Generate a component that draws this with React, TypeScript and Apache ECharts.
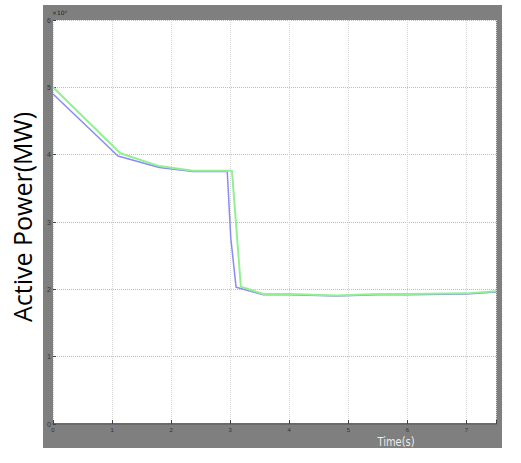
import { useEffect, useRef } from 'react';
import * as echarts from 'echarts';

// time (s) and active power (x10^6 W)
const greenTime = [0, 1.14, 1.8, 2.37, 3.03, 3.18, 3.56, 4.0, 4.8, 5.5, 6.0, 7.0, 7.5];
const greenPower = [5.0, 4.02, 3.83, 3.76, 3.76, 2.04, 1.93, 1.93, 1.91, 1.93, 1.93, 1.94, 1.97];
const blueTime = [0, 1.1, 1.8, 2.37, 2.95, 3.01, 3.1, 3.56, 4.0, 4.8, 5.5, 6.0, 7.0, 7.5];
const bluePower = [4.9, 3.98, 3.81, 3.75, 3.75, 2.76, 2.03, 1.92, 1.92, 1.9, 1.92, 1.92, 1.93, 1.96];
const yTicks = ['0', '1', '2', '3', '4', '5', '6'];
const xTicks = ['0', '1', '2', '3', '4', '5', '6', '7'];

const pairs = (xs: number[], ys: number[]) => xs.map((x, i) => [x, ys[i]]);

export default function App() {
    const ref = useRef<HTMLDivElement | null>(null);

    useEffect(() => {
        document.body.style.margin = '0';
        if (!ref.current) return;
        const chart = echarts.init(ref.current, undefined, { renderer: 'svg' });
        chart.setOption({
            animation: false,
            backgroundColor: '#ffffff',
            grid: { left: 53, top: 20, right: 25, bottom: 39 },
            xAxis: {
                type: 'value', min: 0, max: 7.5, interval: 1,
                axisLine: { show: true, lineStyle: { color: '#6a6a6a', width: 2 } },
                axisTick: { show: true, inside: true, length: 4, lineStyle: { color: '#444' } },
                axisLabel: {
                    fontSize: 6, color: '#333', margin: 3,
                    formatter: (v: number) => (Number.isInteger(v) ? xTicks[v] ?? '' : '')
                },
                splitLine: { show: true, lineStyle: { color: '#d4d4d4', type: 'dotted' } }
            },
            yAxis: {
                type: 'value', min: 0, max: 6, interval: 1,
                axisLine: { show: false },
                axisTick: { show: true, inside: true, length: 3, lineStyle: { color: '#444' } },
                axisLabel: {
                    fontSize: 7, color: '#333', margin: 2,
                    formatter: (v: number) => yTicks[v] ?? ''
                },
                splitLine: { show: true, lineStyle: { color: '#bdbdbd', type: 'dotted' } }
            },
            graphic: [
                { type: 'rect', z: -10, silent: true, shape: { x: 43, y: 5, width: 459, height: 443 }, style: { fill: '#7f7f7f' } },
                { type: 'rect', z: -9, silent: true, shape: { x: 53, y: 20, width: 443, height: 404 }, style: { fill: '#ffffff' } },
                { type: 'text', x: 52, y: 9, style: { text: '×10⁶', fontSize: 6, fill: '#222', fontFamily: 'DejaVu Sans' } },
                {
                    type: 'text', x: 22, y: 217, rotation: Math.PI / 2,
                    style: {
                        text: 'Active Power(MW)', fontSize: 25, fill: '#000',
                        fontFamily: 'Open Sans', align: 'center', verticalAlign: 'middle'
                    }
                },
                {
                    type: 'text', x: 396, y: 442, scaleX: 0.85,
                    style: {
                        text: 'Time(s)', fontSize: 13, fill: '#ececec',
                        fontFamily: '"DejaVu Sans Condensed", "Liberation Sans", sans-serif',
                        align: 'center', verticalAlign: 'middle'
                    }
                }
            ],
            series: [
                {
                    name: 'blue', type: 'line', symbol: 'none', z: 2,
                    data: pairs(blueTime, bluePower),
                    lineStyle: { color: '#8a8af6', width: 1.5 }
                },
                {
                    name: 'green', type: 'line', symbol: 'none', z: 3,
                    data: pairs(greenTime, greenPower),
                    lineStyle: { color: '#92f092', width: 2 }
                }
            ]
        });
        return () => chart.dispose();
    }, []);

    return <div ref={ref} style={{ width: 521, height: 463 }} />;
}
